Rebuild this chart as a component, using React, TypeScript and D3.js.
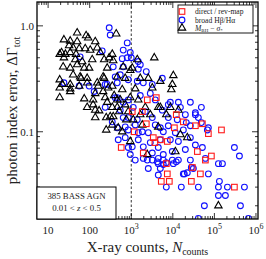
import { useEffect, useRef } from "react";
import * as d3 from "d3";

// [X-ray counts, photon index error]
const sigmaPts: [number, number][] = [
  [50, 0.86], [82, 0.81], [92, 0.77], [24, 0.74], [34, 0.72], [50, 0.71], [136, 0.71], [32, 0.65],
  [40, 0.62], [56, 0.61], [78, 0.61], [103, 0.59], [152, 0.62], [19, 0.54], [26, 0.54], [34, 0.56],
  [47, 0.54], [179, 0.56], [24, 0.5], [45, 0.48], [66, 0.46], [115, 0.48], [223, 0.48], [295, 0.5],
  [23, 0.41], [34, 0.4], [50, 0.43], [74, 0.4], [97, 0.4], [264, 0.4], [40, 0.345], [59, 0.33],
  [87, 0.32], [223, 0.32], [22, 0.28], [34, 0.28], [56, 0.27], [87, 0.29], [152, 0.29], [435, 0.84],
  [21, 0.56], [19, 0.31], [19, 0.21], [62, 0.32], [211, 0.33], [160, 0.27], [121, 0.2], [136, 0.16],
  [136, 0.136], [250, 0.136], [460, 0.17], [543, 0.2], [87, 0.17], [19, 0.26], [34, 0.255], [34, 0.24],
  [74, 0.205], [136, 0.23], [236, 0.21], [264, 0.19], [121, 0.18], [169, 0.158], [312, 0.139],
  [1396, 0.48], [3582, 0.5], [10300, 0.34], [349, 0.54], [368, 0.47], [641, 0.41], [1057, 0.4],
  [946, 0.38], [2568, 0.32], [5000, 0.3], [9730, 0.28], [460, 0.33], [716, 0.32], [1648, 0.32],
  [9200, 0.25], [13600, 0.16], [4470, 0.17], [6970, 0.145], [349, 0.27], [607, 0.25], [1248, 0.255],
  [3206, 0.26], [460, 0.2], [946, 0.21], [1475, 0.2], [5000, 0.17], [8710, 0.17], [349, 0.17],
  [368, 0.139], [4470, 0.111], [15200, 0.094], [11500, 0.065], [2430, 0.061], [22300, 0.088],
  [125000, 0.02], [607, 0.1], [946, 0.081], [211, 0.24], [279, 0.26], [389, 0.22], [514, 0.155],
  [716, 0.18], [759, 0.13], [486, 0.109], [250, 0.104], [349, 0.116], [847, 0.155], [1117, 0.13],
  [1648, 0.145], [2175, 0.17], [2869, 0.145], [1842, 0.116],
];

const broadPts: [number, number][] = [
  [295, 0.96], [312, 0.82], [59, 0.51], [200, 0.58], [24, 0.29], [56, 0.27], [97, 0.27], [236, 0.28],
  [801, 0.69], [641, 0.59], [801, 0.5], [641, 0.41], [411, 0.33], [264, 0.28], [460, 0.21], [236, 0.17],
  [847, 0.136], [716, 0.111], [128, 0.24], [946, 0.56], [607, 0.49], [1000, 0.5], [368, 0.41],
  [1648, 0.43], [1475, 0.39], [5580, 0.32], [543, 0.345], [847, 0.31], [1396, 0.3], [1947, 0.29],
  [3206, 0.28], [460, 0.29], [2299, 0.37], [1475, 0.46], [8710, 0.19], [13600, 0.19], [26400, 0.19],
  [48600, 0.17], [41100, 0.136], [48600, 0.122], [34900, 0.145], [71600, 0.109], [21100, 0.122],
  [5000, 0.109], [7790, 0.114], [411, 0.21], [641, 0.19], [7790, 0.18], [15200, 0.17], [5580, 0.16],
  [641, 0.136], [1396, 0.13], [3206, 0.136], [7790, 0.136], [12800, 0.13], [460, 0.109], [847, 0.104],
  [1842, 0.1], [2568, 0.098], [5900, 0.1], [11500, 0.098], [716, 0.088], [1475, 0.084], [2869, 0.079],
  [13600, 0.081], [1057, 0.072], [1947, 0.072], [4470, 0.071], [9730, 0.065], [946, 0.061],
  [3206, 0.063], [5900, 0.061], [34900, 0.151], [26400, 0.114], [67800, 0.104], [34900, 0.075],
  [51400, 0.071], [303000, 0.071], [400000, 0.059], [125000, 0.05], [156000, 0.05], [31200, 0.045],
  [71600, 0.04], [22300, 0.041], [41100, 0.03], [125000, 0.03], [132000, 0.034], [528000, 0.03],
  [125000, 0.025], [184000, 0.025], [57400, 0.02], [423000, 0.02], [41100, 0.0152], [659000, 0.0152],
  [1475, 0.098], [60700, 0.056], [2568, 0.045], [4470, 0.05], [18900, 0.04], [27900, 0.046],
  [16000, 0.03], [206000, 0.03], [6970, 0.03], [4470, 0.056], [1947, 0.056], [6970, 0.051],
  [12100, 0.052], [1248, 0.054], [2430, 0.054], [3206, 0.054], [5900, 0.054], [9730, 0.054],
  [13600, 0.054], [5000, 0.045], [4470, 0.039], [10300, 0.05], [17900, 0.04], [4230, 0.052],
  [5900, 0.049], [847, 0.071], [1117, 0.17], [2175, 0.155], [3786, 0.2], [1648, 0.22], [2869, 0.23],
  [847, 0.2], [543, 0.16], [1248, 0.116], [3786, 0.116], [20000, 0.145], [17900, 0.104], [26400, 0.088],
  [8710, 0.084], [5000, 0.084], [20000, 0.068], [26400, 0.054], [486, 0.084], [349, 0.124],
];

const directPts: [number, number][] = [
  [2430, 0.2], [4000, 0.21], [12100, 0.145], [17900, 0.124], [34900, 0.114], [51400, 0.119],
  [148000, 0.104], [1842, 0.155], [2299, 0.119], [10900, 0.109], [1057, 0.155], [1181, 0.1],
  [3389, 0.088], [574, 0.071], [1947, 0.063], [3700, 0.079], [5000, 0.084], [7370, 0.081],
  [71600, 0.096], [38900, 0.065], [60700, 0.054], [84700, 0.059], [29500, 0.046], [46000, 0.04],
  [27900, 0.034], [303000, 0.03], [5280, 0.034], [8240, 0.034], [6970, 0.05], [7370, 0.04],
];

const X_TICKS = [10, 100, 1e3, 1e4, 1e5, 1e6];
const X_TICK_BASE = ["10", "100", "10", "10", "10", "10"];
const X_TICK_EXP = ["", "", "3", "4", "5", "6"];
const Y_TICKS = [0.1, 1.0];
const Y_TICK_LABELS = ["0.1", "1.0"];

const FONT = "'Liberation Serif', 'DejaVu Serif', serif";
const RED = "#ff1a1a";
const BLUE = "#1010ff";

export default function App() {
  const svgRef = useRef<SVGSVGElement>(null);

  useEffect(() => {
    const svg = d3.select(svgRef.current);
    svg.selectAll("*").remove();
    const W = 266, H = 259;
    const m = { top: 2, right: 8, bottom: 40, left: 37 };

    const x = d3.scaleLog().domain([5.4, 1.12e6]).range([m.left, W - m.right]);
    const y = d3.scaleLog().domain([0.015, 1.68]).range([H - m.bottom, m.top]);
    const [x0, x1] = x.range();
    const [y0, y1] = y.range(); // y0 bottom, y1 top

    svg.append("rect").attr("width", W).attr("height", H).attr("fill", "#fff");

    const clip = svg.append("clipPath").attr("id", "plot-clip");
    clip.append("rect").attr("x", x0).attr("y", y1).attr("width", x1 - x0).attr("height", y0 - y1);
    const plot = svg.append("g").attr("clip-path", "url(#plot-clip)");

    // dashed N = 1000 line
    plot.append("line")
      .attr("x1", x(1000)).attr("x2", x(1000)).attr("y1", y1).attr("y2", y0)
      .attr("stroke", "#333").attr("stroke-width", 1).attr("stroke-dasharray", "2.5,2");

    const tri = d3.symbol(d3.symbolTriangle, 24)()!;

    plot.selectAll("circle.broad").data(broadPts).enter().append("circle")
      .attr("class", "broad")
      .attr("cx", (d) => x(d[0])).attr("cy", (d) => y(d[1])).attr("r", 2.9)
      .attr("fill", "none").attr("stroke", BLUE).attr("stroke-width", 1.1);

    plot.selectAll("path.sigma").data(sigmaPts).enter().append("path")
      .attr("class", "sigma")
      .attr("d", tri)
      .attr("transform", (d) => `translate(${x(d[0])},${y(d[1])})`)
      .attr("fill", "none").attr("stroke", "#000").attr("stroke-width", 1.1);

    plot.selectAll("rect.direct").data(directPts).enter().append("rect")
      .attr("class", "direct")
      .attr("x", (d) => x(d[0]) - 2.8).attr("y", (d) => y(d[1]) - 2.8)
      .attr("width", 5.6).attr("height", 5.6)
      .attr("fill", "none").attr("stroke", RED).attr("stroke-width", 1.1);

    // ticks (inward, all four sides)
    const axes = svg.append("g").attr("stroke", "#000").attr("stroke-width", 0.8);
    const xMinor: number[] = [];
    for (let e = 0; e <= 6; e++) for (let k = 1; k <= 9; k++) {
      const v = k * Math.pow(10, e);
      if (v > 5.4 && v < 1.12e6) xMinor.push(v);
    }
    const yMinor: number[] = [];
    for (let e = -2; e <= 0; e++) for (let k = 1; k <= 9; k++) {
      const v = k * Math.pow(10, e);
      if (v > 0.015 && v < 1.68) yMinor.push(v);
    }
    for (const v of xMinor) {
      const major = X_TICKS.includes(v);
      const len = major ? 6 : 3;
      axes.append("line").attr("x1", x(v)).attr("x2", x(v)).attr("y1", y0).attr("y2", y0 - len);
      axes.append("line").attr("x1", x(v)).attr("x2", x(v)).attr("y1", y1).attr("y2", y1 + len);
    }
    for (const v of yMinor) {
      const major = Y_TICKS.some((t) => Math.abs(t - v) < 1e-9);
      const len = major ? 6 : 3;
      axes.append("line").attr("x1", x0).attr("x2", x0 + len).attr("y1", y(v)).attr("y2", y(v));
      axes.append("line").attr("x1", x1).attr("x2", x1 - len).attr("y1", y(v)).attr("y2", y(v));
    }

    // frame
    svg.append("rect")
      .attr("x", x0).attr("y", y1).attr("width", x1 - x0).attr("height", y0 - y1)
      .attr("fill", "none").attr("stroke", "#000").attr("stroke-width", 1.3);

    // tick labels
    X_TICKS.forEach((v, i) => {
      const t = svg.append("text")
        .attr("x", x(v)).attr("y", y0 + 15)
        .attr("text-anchor", "middle").attr("font-family", FONT).attr("font-size", 11)
        .attr("fill", "#222");
      t.append("tspan").text(X_TICK_BASE[i]);
      if (X_TICK_EXP[i]) t.append("tspan").attr("dy", -5).attr("font-size", 8).text(X_TICK_EXP[i]);
    });
    Y_TICKS.forEach((v, i) => {
      svg.append("text")
        .attr("x", x0 - 3).attr("y", y(v) + 4)
        .attr("text-anchor", "end").attr("font-family", FONT).attr("font-size", 11)
        .attr("fill", "#222").text(Y_TICK_LABELS[i]);
    });

    // axis titles
    const xt = svg.append("text")
      .attr("x", (x0 + x1) / 2).attr("y", H - 7)
      .attr("text-anchor", "middle").attr("font-family", FONT).attr("font-size", 15).attr("fill", "#222");
    xt.append("tspan").text("X-ray counts, ");
    xt.append("tspan").attr("font-style", "italic").text("N");
    xt.append("tspan").attr("dy", 3).attr("font-size", 10).text("counts");

    const yt = svg.append("text")
      .attr("transform", `translate(17,${(y0 + y1) / 2}) rotate(-90)`)
      .attr("text-anchor", "middle").attr("font-family", FONT).attr("font-size", 15).attr("fill", "#222");
    yt.append("tspan").text("photon index error, ΔΓ");
    yt.append("tspan").attr("dy", 3).attr("font-size", 10).text("tot");

    // legend
    const lg = svg.append("g");
    lg.append("rect").attr("x", 178).attr("y", 5).attr("width", 75).attr("height", 28)
      .attr("fill", "#fff").attr("stroke", "#000").attr("stroke-width", 0.9);
    const rows = [11.5, 20, 28];
    lg.append("rect").attr("x", 182 - 2.8).attr("y", rows[0] - 2.8).attr("width", 5.6).attr("height", 5.6)
      .attr("fill", "none").attr("stroke", RED).attr("stroke-width", 1.1);
    lg.append("circle").attr("cx", 182).attr("cy", rows[1]).attr("r", 2.9)
      .attr("fill", "none").attr("stroke", BLUE).attr("stroke-width", 1.1);
    lg.append("path").attr("d", tri).attr("transform", `translate(182,${rows[2]})`)
      .attr("fill", "none").attr("stroke", "#000").attr("stroke-width", 1.1);
    const lt = (row: number) => lg.append("text").attr("x", 195).attr("y", rows[row] + 2.8)
      .attr("font-family", FONT).attr("font-size", 7.6).attr("fill", "#222");
    lt(0).text("direct / rev-map");
    lt(1).text("broad Hβ/Hα");
    const l3 = lt(2);
    l3.append("tspan").attr("font-style", "italic").text("M");
    l3.append("tspan").attr("dy", 1.5).attr("font-size", 5).text("BH");
    l3.append("tspan").attr("dy", -1.5).text(" − ");
    l3.append("tspan").attr("font-style", "italic").text("σ");
    l3.append("tspan").attr("dy", 1.5).attr("font-size", 5).text("*");

    // sample box
    const sb = svg.append("g");
    sb.append("rect").attr("x", x0).attr("y", 187).attr("width", 79).attr("height", y0 - 187)
      .attr("fill", "#fff").attr("stroke", "#000").attr("stroke-width", 1);
    sb.append("text").attr("x", x0 + 39.5).attr("y", 199).attr("text-anchor", "middle")
      .attr("font-family", FONT).attr("font-size", 8.8).attr("fill", "#222").text("385 BASS AGN");
    const zt = sb.append("text").attr("x", x0 + 39.5).attr("y", 211).attr("text-anchor", "middle")
      .attr("font-family", FONT).attr("font-size", 8.8).attr("fill", "#222");
    zt.append("tspan").text("0.01 < ");
    zt.append("tspan").attr("font-style", "italic").text("z");
    zt.append("tspan").text(" < 0.5");
  }, []);

  return (
    <div style={{ position: "fixed", left: 0, top: 0 }}>
      <svg ref={svgRef} width={266} height={259} style={{ display: "block" }} />
    </div>
  );
}
